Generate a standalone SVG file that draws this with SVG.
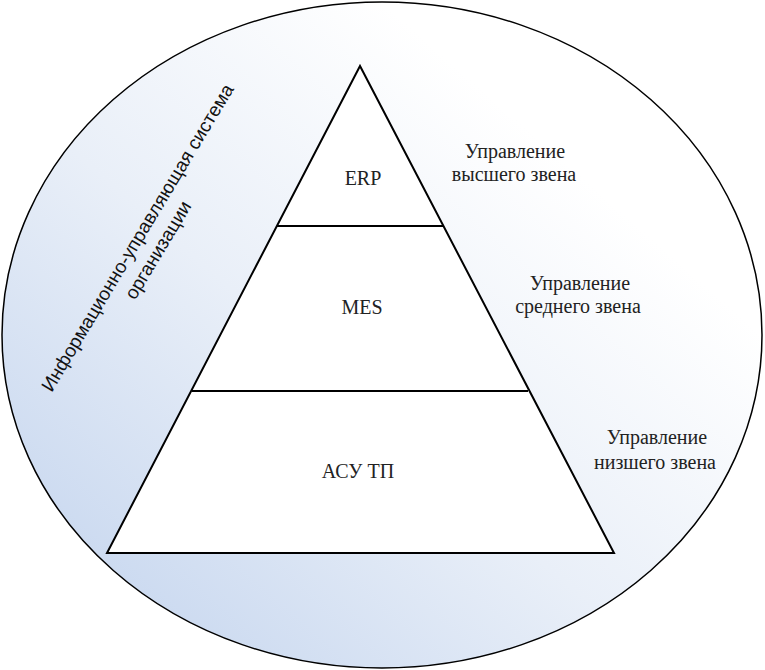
<svg xmlns="http://www.w3.org/2000/svg" width="765" height="670" viewBox="0 0 765 670">
<style>
.lbl{font-family:"Liberation Serif","Times New Roman",serif;font-size:20px;fill:#222;text-anchor:middle}
.rot{font-family:"Liberation Sans",Arial,sans-serif;font-size:19px;fill:#111;text-anchor:middle}
.edge{stroke:#000;stroke-width:2;fill:none}
</style>
<defs>
<linearGradient id="bg" x1="0.05" y1="0.95" x2="0.75" y2="0.25">
<stop offset="0" stop-color="#c3d4ee"/>
<stop offset="0.55" stop-color="#e9eff8"/>
<stop offset="1" stop-color="#ffffff"/>
</linearGradient>
</defs>
<g id="system">
<ellipse cx="382" cy="335" rx="380" ry="333" fill="url(#bg)" stroke="#000" stroke-width="1.5"/>
<text class="rot" transform="translate(143,241) rotate(-59)"><tspan x="0" y="0">Информационно-управляющая система</tspan><tspan x="0" y="24">организации</tspan></text>
</g>
<g id="pyramid">
<polygon points="360,66 107,553 614,553" fill="#fff" stroke="#000" stroke-width="2" stroke-linejoin="miter"/>
</g>
<g id="connectors">
<line class="edge" x1="277" y1="226" x2="443" y2="226"/>
<line class="edge" x1="192" y1="391" x2="528" y2="391"/>
</g>
<g id="erp"><text class="lbl" x="363" y="185">ERP</text></g>
<g id="mes"><text class="lbl" x="362" y="314">MES</text></g>
<g id="asutp"><text class="lbl" x="358" y="478">АСУ ТП</text></g>
<g id="top-level"><text class="lbl" x="515" y="158">Управление</text><text class="lbl" x="514" y="181">высшего звена</text></g>
<g id="mid-level"><text class="lbl" x="580" y="290">Управление</text><text class="lbl" x="578" y="313">среднего звена</text></g>
<g id="low-level"><text class="lbl" x="657" y="444">Управление</text><text class="lbl" x="655" y="469">низшего звена</text></g>
</svg>
